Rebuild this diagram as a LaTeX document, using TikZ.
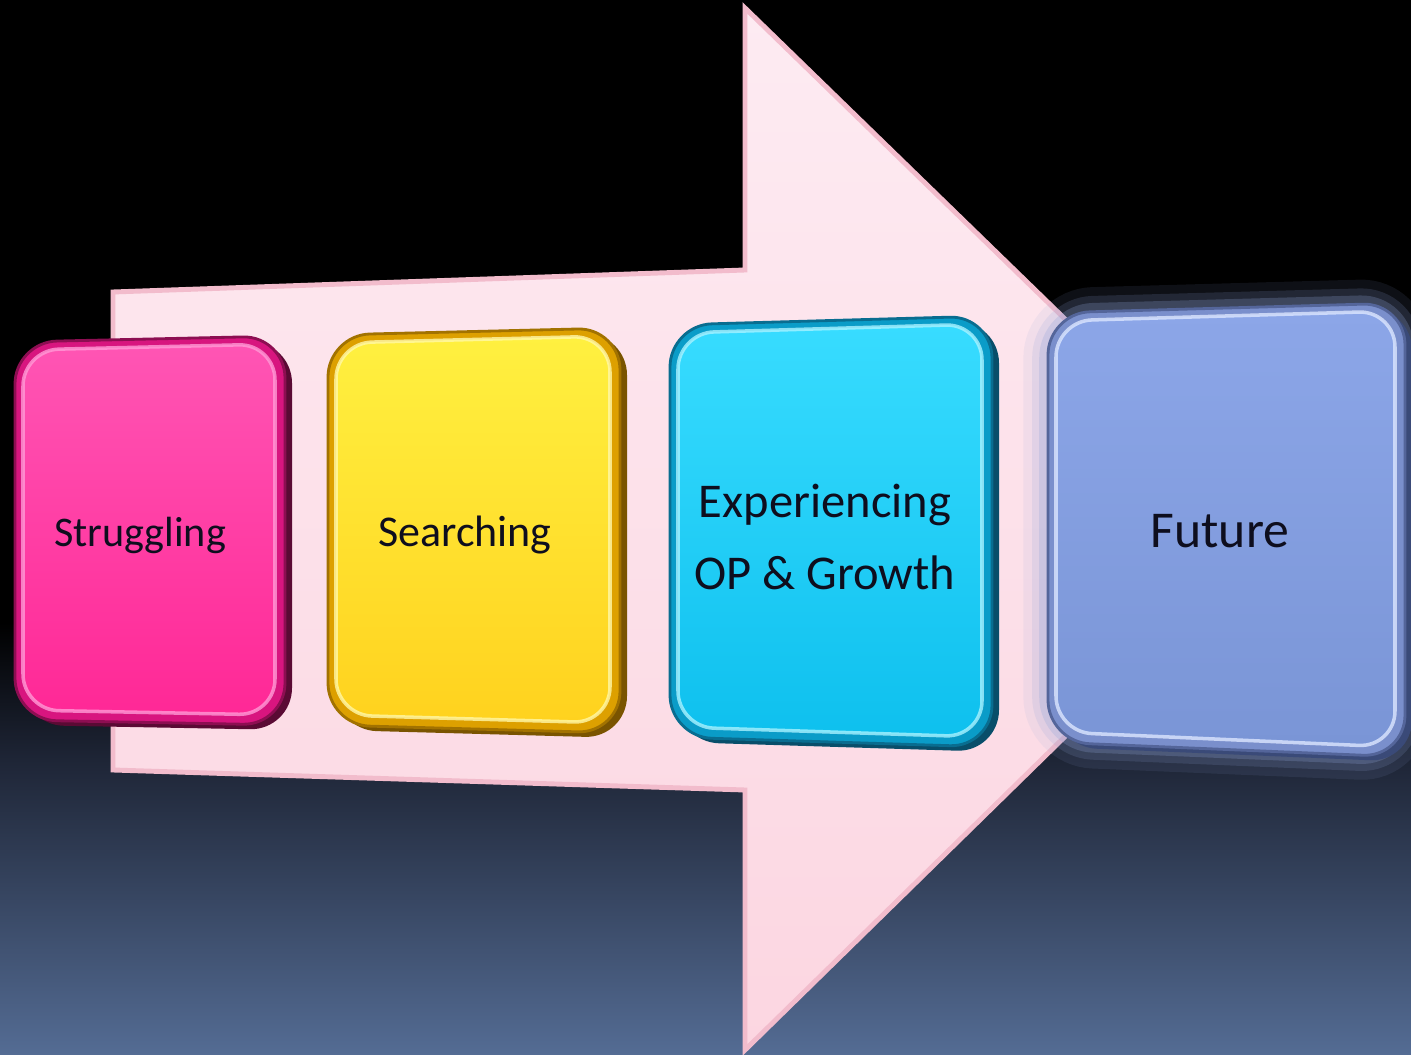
\documentclass[tikz,border=0pt]{standalone}
\usepackage{fontspec}
\setmainfont{Carlito}
\usetikzlibrary{calc}
\definecolor{bgbot}{HTML}{546C94}
\definecolor{bgmid}{HTML}{1E2536}
\definecolor{arrtop}{HTML}{FDEBF2}
\definecolor{arrbot}{HTML}{FCD6E1}
\definecolor{arredge}{HTML}{F2BCCC}
\definecolor{pkrim}{HTML}{D8157F}
\definecolor{pkside}{HTML}{5A0A34}
\definecolor{pktop}{HTML}{FF55B4}
\definecolor{pkbot}{HTML}{FF2896}
\definecolor{pkhi}{HTML}{FF9AD6}
\definecolor{ylrim}{HTML}{DDA000}
\definecolor{ylside}{HTML}{7A5400}
\definecolor{yltop}{HTML}{FFF040}
\definecolor{ylbot}{HTML}{FFD21E}
\definecolor{ylhi}{HTML}{FFF8A8}
\definecolor{cyrim}{HTML}{0A9CC8}
\definecolor{cyside}{HTML}{084E6A}
\definecolor{cytop}{HTML}{38DCFF}
\definecolor{cybot}{HTML}{0EC0EE}
\definecolor{cyhi}{HTML}{A8F2FF}
\definecolor{furim}{HTML}{7A8FCC}
\definecolor{fuside}{HTML}{3A4A78}
\definecolor{futop}{HTML}{8CA6E8}
\definecolor{fubot}{HTML}{7A95D6}
\definecolor{fuhi}{HTML}{DCE6FF}
\definecolor{fuglow}{HTML}{8FA3D8}
\definecolor{txt}{HTML}{0E0E1E}
\pgfdeclareverticalshading{bgshade}{100bp}{color(0bp)=(bgbot); color(25bp)=(bgbot); color(39bp)=(bgmid); color(45.5bp)=(black); color(100bp)=(black)}
\newcommand{\bevelbox}[5]{%
  \fill[#1side, rounded corners=0.42cm] ($#2+(7,5)$) -- ($#3+(7,5)$) -- ($#4+(7,5)$) -- ($#5+(7,5)$) -- cycle;
  \fill[#1rim, rounded corners=0.42cm] #2 -- #3 -- #4 -- #5 -- cycle;
  \shade[top color=#1top, bottom color=#1bot, rounded corners=0.36cm]
    ($#2+(8,8)$) -- ($#3+(-10,8)$) -- ($#4+(-10,-10)$) -- ($#5+(8,-10)$) -- cycle;
  \draw[#1hi, opacity=0.8, line width=1pt, rounded corners=0.36cm]
    ($#2+(8,8)$) -- ($#3+(-10,8)$) -- ($#4+(-10,-10)$) -- ($#5+(8,-10)$) -- cycle;
  \draw[#1side!60!#1rim, line width=0.8pt, rounded corners=0.42cm] #2 -- #3 -- #4 -- #5 -- cycle;
}
\tikzset{
  lbl/.style={text=txt, inner sep=0pt, align=center},
}
\begin{document}
\begin{tikzpicture}[x=0.01cm, y=-0.01cm]
\useasboundingbox (0,0) rectangle (1411,1055);
\shade[shading=bgshade] (0,0) rectangle (1411,1055);
% big arrow
\shade[top color=arrtop, bottom color=arrbot, draw=arredge, line width=1.4pt, line join=miter]
  (113,292) -- (745,270) -- (745,8) -- (1279,527) -- (745,1050) -- (745,790) -- (113,770) -- cycle;
% future glow
\foreach \w/\o in {14/0.10, 9/0.16, 5/0.25}{
  \draw[fuglow, opacity=\o, line width=\w, rounded corners=0.45cm]
    (1048,313) -- (1405,303) -- (1405,757) -- (1048,742) -- cycle;
}
% boxes
\bevelbox{pk}{(15,342)}{(285,336)}{(285,725)}{(15,720)}
\bevelbox{yl}{(328,335)}{(620,328)}{(620,733)}{(328,725)}
\bevelbox{cy}{(670,325)}{(992,316)}{(992,747)}{(670,737)}
\bevelbox{fu}{(1048,313)}{(1405,303)}{(1405,757)}{(1048,742)}
% labels
\node[lbl, font=\fontsize{12}{14}\selectfont, anchor=base] (s1) at (140,547) {Struggling};
\node[lbl, font=\fontsize{12.5}{15}\selectfont, anchor=base] (s2) at (465,547) {Searching};
\node[lbl, font=\fontsize{13.8}{20.4}\selectfont] (s3) at (825,537) {Experiencing\\OP \& Growth};
\node[lbl, font=\fontsize{14.7}{17}\selectfont, anchor=base] (s4) at (1220,548) {Future};
\end{tikzpicture}
\end{document}
